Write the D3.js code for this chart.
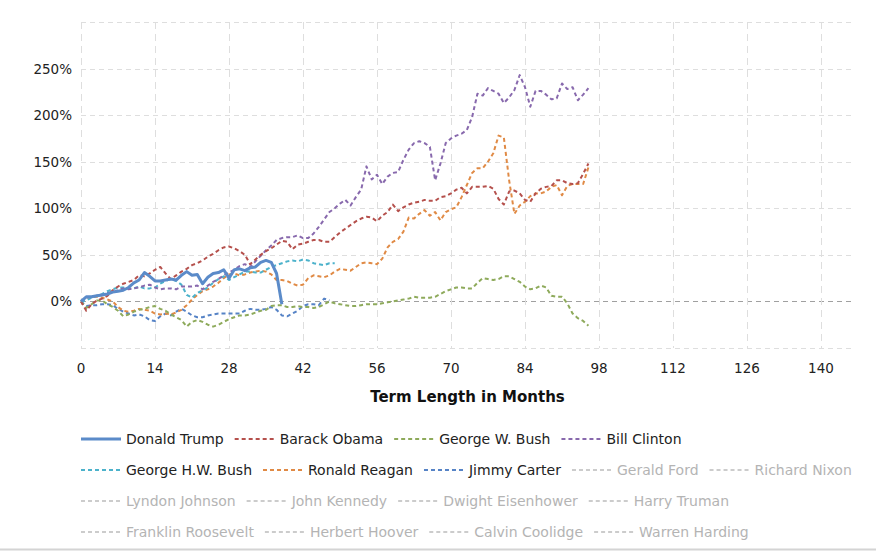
<!DOCTYPE html>
<html>
<head>
<meta charset="utf-8">
<script src="https://cdn.jsdelivr.net/npm/d3@7"></script>
<style>
  body { margin: 0; background: #fff; }
  svg { display: block; font-family: "DejaVu Sans", Verdana, sans-serif; }
</style>
</head>
<body>
<svg id="chart" width="876" height="551"></svg>
<script>

// months since start of term
var xTicks = [0, 14, 28, 42, 56, 70, 84, 98, 112, 126, 140];
var yTicks = [-50, 0, 50, 100, 150, 200, 250, 300];
var yLabels = ["0%", "50%", "100%", "150%", "200%", "250%"];

// cumulative % change, one value per month
var trump = [0,5,5,6,7,8,10,11,12,15,20,23,31,27,22,22,23,24,23,28,32,28,29,19,26,30,31,34,25,34,35,33,36,37,42,44,42,30,-3];

var obama = [0,-10,-3,1,3,6,12,16,19,21,23,28,27,30,34,37,30,24,28,32,35,39,41,44,48,51,55,58,59,57,54,50,40,45,50,54,57,61,65,64,
  56,61,62,64,66,66,64,64,69,74,78,82,86,89,91,90,86,92,96,104,97,101,104,106,107,109,108,108,112,113,116,120,122,116,123,123,123,124,121,110,
  104,118,119,116,109,107,116,121,123,124,130,130,127,126,127,137,148];

var gwBush = [0,-7,-3,1,1,-3,-6,-10,-16,-14,-11,-9,-8,-6,-5,-8,-10,-14,-17,-20,-27,-22,-20,-22,-25,-27,-25,-22,-19,-17,-15,-15,-14,-12,-10,-9,-5,-4,-4,-6,
  -6,-5,-6,-6,-7,-6,-3,0,-2,-3,-4,-5,-5,-4,-3,-3,-3,-2,-1,0,1,2,3,5,4,4,4,5,8,11,13,15,15,14,14,20,25,24,23,24,
  27,27,24,21,16,13,14,17,15,6,5,5,-2,-13,-18,-21,-26];

var clinton = [0,4,5,6,7,9,10,12,14,13,14,15,17,18,15,13,14,14,13,16,16,16,17,13,17,21,24,28,31,34,38,40,37,43,49,55,60,66,68,69,
  69,71,68,68,73,80,88,96,100,105,109,103,112,120,145,131,136,126,134,138,139,152,163,170,172,170,166,130,148,170,175,178,180,184,198,223,221,229,226,223,
  213,219,227,243,230,209,226,226,222,217,218,234,228,230,216,222,229];

var ghwBush = [0,1,4,6,8,11,13,15,15,14,14,16,14,14,15,19,22,24,22,18,7,4,9,12,15,20,24,27,23,26,29,32,32,31,31,34,37,39,41,43,
  44,43,45,44,41,40,39,41,41];

var reagan = [0,4,5,5,4,2,0,-6,-10,-11,-10,-8,-9,-10,-13,-14,-13,-14,-12,-9,-4,2,7,11,13,16,20,25,29,30,28,29,31,32,33,32,29,23,23,22,
  19,17,18,25,28,27,26,28,32,35,34,33,37,41,42,41,40,46,58,64,67,75,90,89,94,98,92,96,87,96,99,101,112,125,138,143,143,150,159,178,
  176,130,94,103,107,113,116,116,118,123,125,114,124,126,126,126,144];

var carter = [0,-5,-4,-4,-3,-3,-4,-8,-11,-13,-15,-14,-16,-20,-21,-16,-13,-15,-11,-8,-11,-15,-17,-17,-15,-14,-13,-13,-13,-13,-13,-10,-8,-9,-9,-8,-6,-9,-15,-16,
  -13,-10,-5,-3,-3,-4,3,1];

var seriesNames = ["Donald Trump", "Barack Obama", "George W. Bush", "Bill Clinton",
  "George H.W. Bush", "Ronald Reagan", "Jimmy Carter", "Gerald Ford", "Richard Nixon",
  "Lyndon Johnson", "John Kennedy", "Dwight Eisenhower", "Harry Truman",
  "Franklin Roosevelt", "Herbert Hoover", "Calvin Coolidge", "Warren Harding"];
var seriesValues = [trump, obama, gwBush, clinton, ghwBush, reagan, carter];
var seriesColors = ["#5b8bc9", "#b5504c", "#8eaa5b", "#8869ad", "#4cb2cb", "#e08a45", "#5683c6"];

// legend rows (index of first item on each row)
var legendRowStarts = [0, 4, 9, 13];

var svg = d3.select("#chart");

var plot = {left: 81, right: 854, top: 22, bottom: 348};

var x = d3.scaleLinear().domain([0, 140]).range([plot.left, 821]);
var y = d3.scaleLinear().domain([-50, 300]).range([plot.bottom, plot.top]);

// horizontal grid
svg.append("g")
    .selectAll("line")
    .data(yTicks)
    .enter().append("line")
    .attr("x1", plot.left)
    .attr("x2", plot.right)
    .attr("y1", function(d){ return Math.round(y(d)) + 0.5; })
    .attr("y2", function(d){ return Math.round(y(d)) + 0.5; })
    .style("stroke", function(d){ return d === 0 ? "#a0a0a0" : "#dedede"; })
    .style("stroke-dasharray", "5,4")
    .style("stroke-width", 1);

// vertical grid
svg.append("g")
    .selectAll("line")
    .data(xTicks)
    .enter().append("line")
    .attr("x1", function(d){ return Math.round(x(d)) + 0.5; })
    .attr("x2", function(d){ return Math.round(x(d)) + 0.5; })
    .attr("y1", plot.top)
    .attr("y2", plot.bottom)
    .style("stroke", "#dedede")
    .style("stroke-dasharray", "7,5")
    .style("stroke-width", 1);

// y labels
svg.append("g")
    .selectAll("text")
    .data(yLabels)
    .enter().append("text")
    .attr("x", 72)
    .attr("y", function(d){ return y(parseFloat(d)) + 5; })
    .attr("text-anchor", "end")
    .style("font-size", "13.5px")
    .style("fill", "#222")
    .text(function(d){ return d; });

// x labels
svg.append("g")
    .selectAll("text")
    .data(xTicks)
    .enter().append("text")
    .attr("x", function(d){ return x(d); })
    .attr("y", 373)
    .attr("text-anchor", "middle")
    .style("font-size", "13.5px")
    .style("fill", "#222")
    .text(function(d){ return d; });

svg.append("text")
    .attr("x", (plot.left + plot.right) / 2)
    .attr("y", 402)
    .attr("text-anchor", "middle")
    .style("font-size", "15px")
    .style("font-weight", "bold")
    .style("fill", "#111")
    .text("Term Length in Months");

var line = d3.line()
    .x(function(d, i){ return x(i); })
    .y(function(d){ return y(d); });

// draw older terms first so Trump ends on top
for (var s = seriesValues.length - 1; s >= 0; s--) {
    svg.append("path")
        .attr("d", line(seriesValues[s]))
        .style("fill", "none")
        .style("stroke", seriesColors[s])
        .style("stroke-width", s === 0 ? 3 : 2)
        .style("stroke-dasharray", s === 0 ? null : "4,3")
        .style("stroke-linejoin", "round");
}

// legend
var legend = svg.append("g");
var row = -1, cx = 0;
seriesNames.forEach(function(name, i){
    if (legendRowStarts.indexOf(i) > -1) { row++; cx = plot.left; }
    var cy = 439 + row * 31;
    var hidden = i >= seriesValues.length;
    var item = legend.append("g");
    item.append("line")
        .attr("x1", cx).attr("x2", cx + 40)
        .attr("y1", cy).attr("y2", cy)
        .style("stroke", hidden ? "#cccccc" : seriesColors[i])
        .style("stroke-width", i === 0 ? 3 : 2)
        .style("stroke-dasharray", i === 0 ? null : "4,3");
    var t = item.append("text")
        .attr("x", cx + 45)
        .attr("y", cy + 5)
        .style("font-size", "14px")
        .style("fill", hidden ? "#b4b4b4" : "#222")
        .text(name);
    cx += 45 + t.node().getComputedTextLength() + 11;
});

// bottom border of the container
svg.append("line")
    .attr("x1", 0).attr("x2", 876)
    .attr("y1", 549.5).attr("y2", 549.5)
    .style("stroke", "#d4d4d4")
    .style("stroke-width", 2);

</script>
</body>
</html>
